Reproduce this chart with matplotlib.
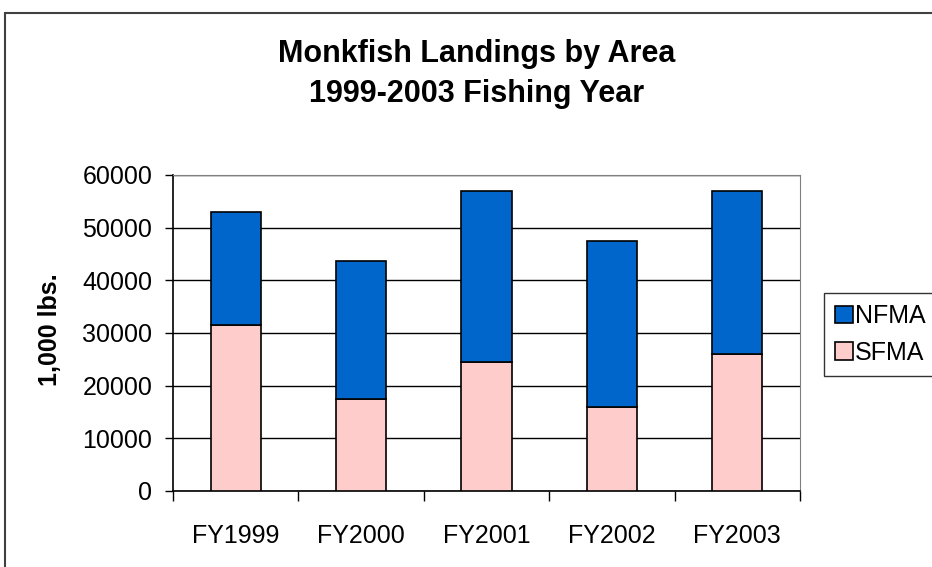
import numpy as np
import matplotlib
matplotlib.use('Agg')
import matplotlib.pyplot as plt
from matplotlib.patches import Rectangle

matplotlib.rcParams.update({'font.family': ['Liberation Sans', 'DejaVu Sans']})

years = ['FY1999', 'FY2000', 'FY2001', 'FY2002', 'FY2003']
sfma = [31500, 17500, 24400, 15900, 26000]
nfma = [21500, 26200, 32600, 31600, 31000]
yticks = [0, 10000, 20000, 30000, 40000, 50000, 60000]

fig = plt.figure(figsize=(9.32, 5.67), dpi=100)
ax = fig.add_axes([173 / 932, 1 - 491 / 567, (800 - 173) / 932, (491 - 175) / 567])

# outer chart frame (runs off the right and bottom edges)
fig.patches.append(Rectangle((5 / 932, -0.1), 1.2, 1 - 12.5 / 567 + 0.1,
                             transform=fig.transFigure, fill=False,
                             edgecolor='#404040', linewidth=1.5, zorder=0))

x = np.arange(len(years))
ax.bar(x, sfma, width=0.4, color='#FFCCCC', edgecolor='black', linewidth=1.2,
       label='SFMA', zorder=3)
ax.bar(x, nfma, width=0.4, bottom=sfma, color='#0066CC', edgecolor='black',
       linewidth=1.2, label='NFMA', zorder=3)

ax.set_xlim(-0.5, 4.5)
ax.set_ylim(0, 60000)
ax.set_yticks(yticks)
ax.set_xticks(x)
ax.set_xticklabels(years)
ax.set_xticks(np.arange(-0.5, 5, 1), minor=True)
ax.tick_params(axis='x', which='major', length=0, pad=24, labelsize=18)
ax.tick_params(axis='x', which='minor', length=7, direction='out', width=1)
ax.tick_params(axis='y', length=6, direction='out', width=1, labelsize=18, pad=9)
ax.yaxis.grid(True, color='black', linewidth=1, zorder=0)
ax.set_axisbelow(True)

for s in ['top', 'right']:
    ax.spines[s].set_color('#808080')
for s in ['left', 'bottom']:
    ax.spines[s].set_color('black')
    ax.spines[s].set_linewidth(1.2)

fig.text(50 / 932, 1 - 330 / 567, '1,000 lbs.', rotation=90, ha='center',
         va='center', fontsize=18, fontweight='bold')
fig.text(477 / 932, 1 - 74 / 567, 'Monkfish Landings by Area\n1999-2003 Fishing Year',
         ha='center', va='center', fontsize=22, fontweight='bold',
         linespacing=1.42)

handles, labels = ax.get_legend_handles_labels()
leg = fig.legend(handles[::-1], labels[::-1], loc='upper left',
                 bbox_to_anchor=(824 / 932, 1 - 293 / 567), fontsize=18,
                 frameon=True, fancybox=False, edgecolor='black',
                 handlelength=0.7, handleheight=0.7, handletextpad=0.1,
                 borderpad=0.45, labelspacing=0.5, borderaxespad=0)
leg.get_frame().set_linewidth(1)

fig.savefig('out.png', dpi=100, facecolor='white')
